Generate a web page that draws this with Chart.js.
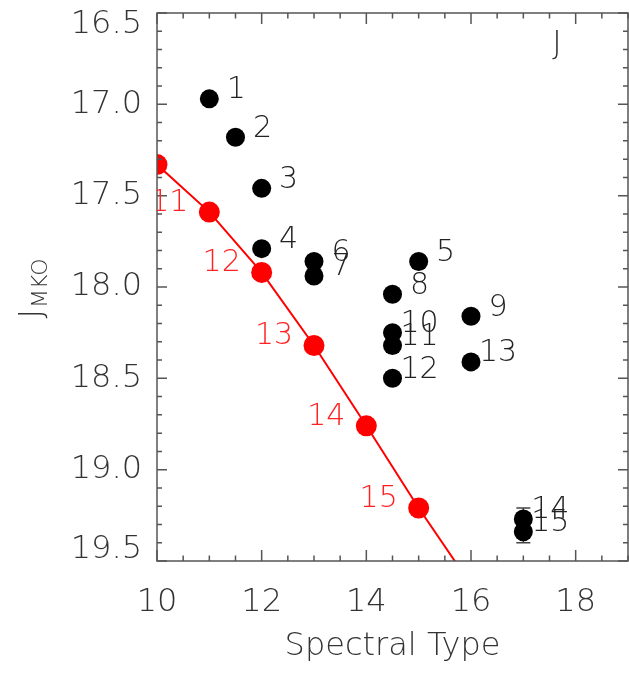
<!DOCTYPE html>
<html>
<head>
<meta charset="utf-8">
<script src="https://cdn.jsdelivr.net/npm/chart.js@4.4.0/dist/chart.umd.min.js"></script>
<style>
  html, body { margin: 0; padding: 0; background: #fff; overflow: hidden; }
  canvas { display: block; }
</style>
</head>
<body>
<canvas id="magChart" width="629" height="673"></canvas>
<script>
// measured objects (spectral type vs J_MKO)
const objSpt = [11, 11.5, 12, 12, 15, 13, 13, 14.5, 16, 14.5, 14.5, 14.5, 16, 17, 17];
const objJ = [16.97, 17.18, 17.46, 17.79, 17.86, 17.86, 17.94, 18.04, 18.16, 18.25, 18.32, 18.50, 18.41, 19.27, 19.34];
const objErr = [0, 0, 0, 0, 0, 0, 0, 0, 0, 0, 0, 0, 0, 0.06, 0.06];
const objLabels = ['1', '2', '3', '4', '5', '6', '7', '8', '9', '10', '11', '12', '13', '14', '15'];

// red sequence
const seqSpt = [10, 11, 12, 13, 14, 15, 16];
const seqJ = [17.33, 17.59, 17.92, 18.32, 18.76, 19.21, 19.63];
const seqLabels = ['10', '11', '12', '13', '14', '15', '16'];

const FONT = "'DejaVu Sans', sans-serif";
const WEIGHT = 200;
const TEXT = '#333';
const AXIS = '#555';

Chart.defaults.font.family = FONT;
Chart.defaults.font.weight = WEIGHT;
Chart.defaults.color = TEXT;

function isHalf(v) {
  return Math.abs(v * 2 - Math.round(v * 2)) < 1e-6;
}

// frame with inward ticks on all four sides
const framePlugin = {
  id: 'frame',
  afterDatasetsDraw(chart) {
    const {ctx, chartArea: a, scales: {x, y}} = chart;
    ctx.save();
    ctx.strokeStyle = AXIS;
    ctx.lineWidth = 1.5;
    ctx.strokeRect(a.left, a.top, a.right - a.left, a.bottom - a.top);
    ctx.beginPath();
    x.ticks.forEach(t => {
      const px = x.getPixelForValue(t.value);
      const len = (Number.isInteger(t.value) && t.value % 2 === 0) ? 11 : 5.5;
      ctx.moveTo(px, a.bottom); ctx.lineTo(px, a.bottom - len);
      ctx.moveTo(px, a.top); ctx.lineTo(px, a.top + len);
    });
    y.ticks.forEach(t => {
      const py = y.getPixelForValue(t.value);
      const len = isHalf(t.value) ? 10 : 5;
      ctx.moveTo(a.left, py); ctx.lineTo(a.left + len, py);
      ctx.moveTo(a.right, py); ctx.lineTo(a.right - len, py);
    });
    ctx.stroke();
    ctx.restore();
  }
};

// error bars under the black markers
const errorPlugin = {
  id: 'errbars',
  beforeDatasetsDraw(chart) {
    const {ctx, scales: {x, y}} = chart;
    ctx.save();
    ctx.strokeStyle = '#444';
    ctx.lineWidth = 1.5;
    ctx.beginPath();
    objErr.forEach((e, i) => {
      if (!e) return;
      const px = x.getPixelForValue(objSpt[i]);
      const y1 = y.getPixelForValue(objJ[i] - e);
      const y2 = y.getPixelForValue(objJ[i] + e);
      ctx.moveTo(px, y1); ctx.lineTo(px, y2);
      ctx.moveTo(px - 7, y1); ctx.lineTo(px + 7, y1);
      ctx.moveTo(px - 7, y2); ctx.lineTo(px + 7, y2);
    });
    ctx.stroke();
    ctx.restore();
  }
};

// numbers next to points, y-axis title and panel letter
const textPlugin = {
  id: 'texts',
  afterDatasetsDraw(chart) {
    const {ctx, chartArea: a} = chart;
    const f = size => WEIGHT + ' ' + size + 'px ' + FONT;
    ctx.save();
    ctx.textAlign = 'center';
    ctx.textBaseline = 'middle';

    ctx.font = f(30);
    ctx.fillStyle = '#222';
    chart.getDatasetMeta(0).data.forEach((pt, i) => {
      ctx.fillText(objLabels[i], pt.x + 27, pt.y - 8.5);
    });

    ctx.save();
    ctx.beginPath();
    ctx.rect(a.left, a.top, a.right - a.left, a.bottom - a.top);
    ctx.clip();
    ctx.fillStyle = '#f22';
    chart.getDatasetMeta(1).data.forEach((pt, i) => {
      ctx.fillText(seqLabels[i], pt.x - 40, pt.y - 9);
    });
    ctx.restore();

    ctx.fillStyle = TEXT;
    ctx.font = f(32);
    ctx.fillText('J', a.right - 71, a.top + 32);

    // J_MKO rotated
    ctx.translate(0, 289);
    ctx.rotate(-Math.PI / 2);
    ctx.textAlign = 'left';
    ctx.textBaseline = 'alphabetic';
    ctx.font = f(32);
    const wJ = ctx.measureText('J').width;
    ctx.font = f(22);
    const wSub = ctx.measureText('MKO').width;
    const start = -(wJ + wSub) / 2;
    ctx.font = f(32);
    ctx.fillText('J', start, 41);
    ctx.font = f(22);
    ctx.fillText('MKO', start + wJ + 1, 47);
    ctx.restore();
  }
};

const objPoints = objSpt.map((s, i) => ({x: s, y: objJ[i]}));
const seqPoints = seqSpt.map((s, i) => ({x: s, y: seqJ[i]}));

new Chart(document.getElementById('magChart'), {
  type: 'scatter',
  data: {
    datasets: [
      {
        label: 'objects',
        data: objPoints,
        backgroundColor: '#000',
        borderWidth: 0,
        pointRadius: 9.5,
        clip: 0
      },
      {
        label: 'sequence',
        data: seqPoints,
        showLine: true,
        borderColor: '#f00',
        borderWidth: 2,
        backgroundColor: '#f00',
        pointBorderWidth: 0,
        pointRadius: 10.5,
        clip: 0
      }
    ]
  },
  options: {
    responsive: false,
    animation: false,
    devicePixelRatio: 1,
    layout: { autoPadding: false, padding: { top: 13, right: 1, left: 0, bottom: 0 } },
    plugins: {
      legend: { display: false },
      tooltip: { enabled: false }
    },
    scales: {
      x: {
        type: 'linear',
        min: 10,
        max: 19,
        grid: { display: false, drawTicks: false },
        border: { display: false },
        ticks: {
          stepSize: 0.5,
          autoSkip: false,
          maxRotation: 0,
          minRotation: 0,
          padding: 22,
          color: TEXT,
          font: { size: 32 },
          callback: v => (Number.isInteger(v) && v % 2 === 0 && v < 19) ? String(v) : ''
        },
        title: {
          display: true,
          text: 'Spectral Type',
          color: TEXT,
          font: { size: 32 },
          padding: { top: 0, bottom: 7 }
        },
        afterFit(scale) {
          scale.height = 112;
          scale.paddingLeft = 0;
          scale.paddingRight = 0;
        }
      },
      y: {
        type: 'linear',
        reverse: true,
        min: 16.5,
        max: 19.5,
        grid: { display: false, drawTicks: false },
        border: { display: false },
        ticks: {
          stepSize: 0.1,
          maxTicksLimit: 100,
          autoSkip: false,
          padding: 15,
          color: TEXT,
          font: { size: 32, lineHeight: 0.72 },
          callback: v => {
            if (!isHalf(v)) return '';
            const s = v.toFixed(1);
            if (Math.abs(v - 16.5) < 1e-6) return ['', s];
            if (Math.abs(v - 19.5) < 1e-6) return [s, ''];
            return s;
          }
        },
        afterFit(scale) {
          scale.width = 157;
          scale.paddingTop = 0;
          scale.paddingBottom = 0;
        }
      }
    }
  },
  plugins: [errorPlugin, framePlugin, textPlugin]
});
</script>
</body>
</html>
